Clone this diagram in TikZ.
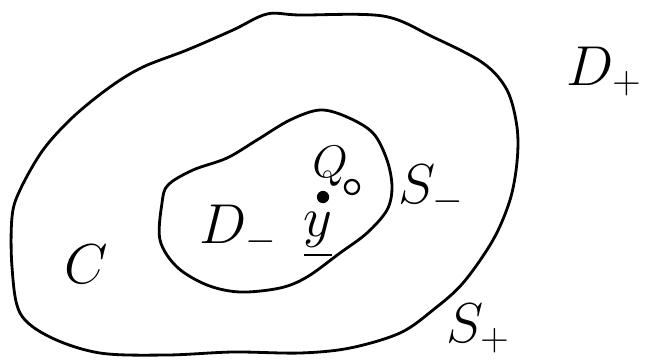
\RequirePackage{fix-cm}
\documentclass[tikz,border=0pt]{standalone}
\usepackage{amsmath}
\usepackage{amssymb}
\usepackage{tikz}

\begin{document}
\begin{tikzpicture}[line width=1.6pt, x=0.02cm, y=-0.02cm,
    lbl/.style={inner sep=0pt, anchor=base west, font=\fontsize{32}{36}\selectfont},
    dot/.style={circle, fill=black, inner sep=0pt, minimum size=7pt},
    ring/.style={circle, draw=black, line width=1.3pt, inner sep=0pt, minimum size=8pt}]
        \useasboundingbox (0,0) rectangle (646,360);
        % outer boundary S_+
        \draw plot[smooth cycle, tension=0.55] coordinates {(300,15) (383,16) (433,37) (483,63) (507,90)
            (517,127) (517,162) (510,200) (493,240) (463,283) (433,310) (400,333) (350,348)
            (300,353) (233,352) (167,355) (100,353) (50,337) (20,313) (12,267) (12,217)
            (20,190) (43,150) (73,117) (110,87) (143,67) (187,50) (233,30) (267,14)};
        % inner boundary S_-
        \draw plot[smooth cycle, tension=0.55] coordinates {(320,110) (347,117) (373,133) (387,160)
            (392,187) (387,210) (367,233) (340,253) (307,277) (280,288) (240,292) (207,285)
            (177,267) (160,240) (162,203) (168,185) (193,170) (227,158) (257,140) (290,120)};
        \node[dot] (ypt) at (323,197){};
        \node[ring] (Qpt) at (352,187){};
        \node[lbl, anchor=base east] (Dplus) at (643,85){$D_+$};
        \node[lbl] (Splus) at (445,342){$S_+$};
        \node[lbl] (Sminus) at (397,203){$S_-$};
        \node[lbl] (Dminus) at (198,243){$D_-$};
        \node[lbl] (C) at (63,283){$C$};
        \node[lbl, anchor=center] (y) at (318,235){$\underline{y}$};
        \node[lbl, anchor=center, font=\fontsize{26}{30}\selectfont] (Q) at (330,166){$Q$};
    \end{tikzpicture}
\end{document}
